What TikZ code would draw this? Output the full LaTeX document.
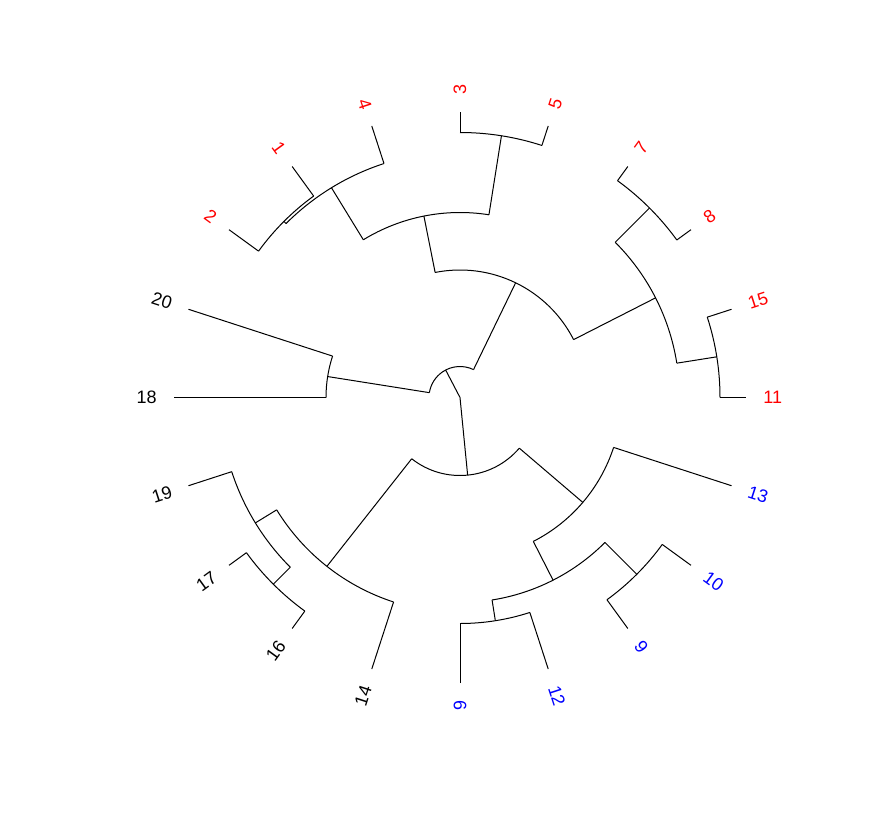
\documentclass[tikz,border=0pt]{standalone}
\usepackage{fontspec}
\setmainfont{Liberation Sans}
\usepackage{xcolor}

\begin{document}
\begin{tikzpicture}[x=0.5pt, y=0.5pt,
    branch/.style={black, line width=0.5pt},
    tiplab/.style={inner sep=0pt, font=\fontsize{9}{10}\selectfont}]
  \path[use as bounding box] (-460,-417.5) rectangle (422,397.5);
  \coordinate (root) at (0,0);

  % Tips: name/angle/radius of parent arc/label rotation/label side/colour
  \foreach \lab/\ang/\pr/\rot/\side/\col in {
      11/0/260/0/west/red, 15/18/260/18/west/red, 8/36/268/36/west/red,
      7/54/268/54/west/red, 5/72/265/72/west/red, 3/90/265/90/west/red,
      4/108/246/-72/east/red, 1/126/249/-54/east/red, 2/144/249/-36/east/red,
      20/162/134/-18/east/black, 18/180/134/0/east/black,
      19/198/240/18/east/black, 17/216/264/36/east/black,
      16/234/264/54/east/black, 14/252/215/72/east/black,
      6/270/226/270/west/blue, 12/288/226/288/west/blue,
      9/306/250/306/west/blue, 10/324/250/324/west/blue,
      13/342/161.5/342/west/blue} {
    \coordinate (t\lab) at (\ang:285.5);
    \draw[branch] (t\lab) -- (\ang:\pr);
    \node[tiplab, text=\col, rotate=\rot, anchor=\side] (l\lab) at (\ang:303) {\lab};
  }

  % Internal nodes: name/angle/radius/arc from/arc to/radius of parent arc
  \foreach \nd/\ang/\r/\from/\to/\pr in {
      n12/135/249/126/144/246, n124/121.5/246/108/135/185,
      n35/81/265/72/90/185, nA/101.25/185/81/121.5/127.5,
      n78/45/268/36/54/219.5, n1115/9/260/0/18/219.5,
      nB/27/219.5/9/45/127.5, nC/64.125/127.5/27/101.25/31,
      n1820/171/134/162/180/31, nD/117.5625/31/64.125/171/0,
      n1617/225/264/216/234/240, nE/211.5/240/198/225/215,
      nF/231.75/215/211.5/252/78, n612/279/226/270/288/205,
      n910/315/250/306/324/205, nG/297/205/279/315/161.5,
      nH/319.5/161.5/297/342/78, nI/275.625/78/231.75/319.5/0} {
    \coordinate (\nd) at (\ang:\r);
    \draw[branch] (\from:\r) arc[start angle=\from, end angle=\to, radius=\r];
    \draw[branch] (\nd) -- (\ang:\pr);
  }
\end{tikzpicture}
\end{document}
